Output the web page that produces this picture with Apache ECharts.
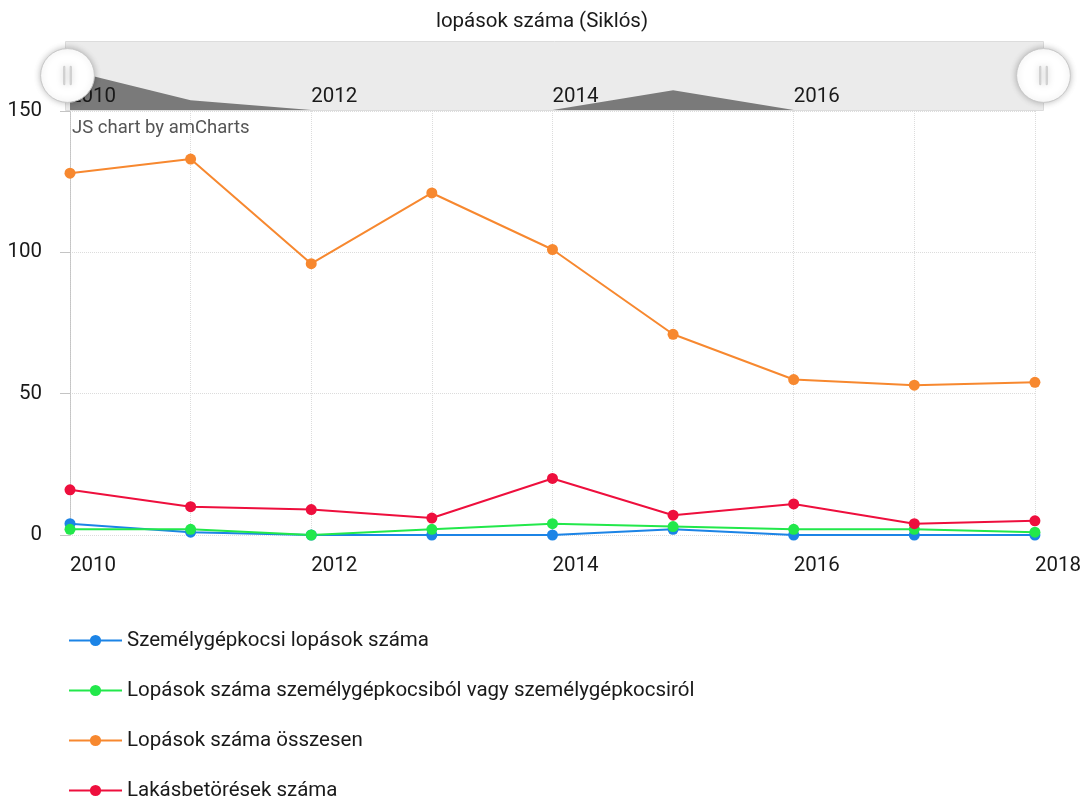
<!DOCTYPE html>
<html lang="hu">
<head>
<meta charset="UTF-8">
<title>lopások száma (Siklós)</title>
<script src="https://cdn.jsdelivr.net/npm/echarts@6/dist/echarts.min.js"></script>
<style>
    html, body { margin: 0; padding: 0; background: #fff; }
    #chart { width: 1084px; height: 802px; }
</style>
</head>
<body>
<div id="chart"></div>
<script type="text/javascript">
    // adatok
    var evek = [2010, 2011, 2012, 2013, 2014, 2015, 2016, 2017, 2018];
    var szgkLopasok = [4, 1, 0, 0, 0, 2, 0, 0, 0];
    var szgkbolLopasok = [2, 2, 0, 2, 4, 3, 2, 2, 1];
    var lopasokOsszesen = [128, 133, 96, 121, 101, 71, 55, 53, 54];
    var lakasbetoresek = [16, 10, 9, 6, 20, 7, 11, 4, 5];
    var cimkeEvek = [2010, 2012, 2014, 2016, 2018];
    var savCimkeEvek = [2010, 2012, 2014, 2016];
    var nevek = [
        'Személygépkocsi lopások száma',
        'Lopások száma személygépkocsiból vagy személygépkocsiról',
        'Lopások száma összesen',
        'Lakásbetörések száma'
    ];
    var szinek = ['#1c84e6', '#22e84b', '#f7882f', '#ee0f3d'];

    function parok(arr) {
        return evek.map(function (ev, i) { return [ev, arr[i]]; });
    }

    function vonal(i, arr) {
        return {
            name: nevek[i],
            type: 'line',
            xAxisIndex: 0,
            yAxisIndex: 0,
            data: parok(arr),
            symbol: 'circle',
            symbolSize: 11,
            lineStyle: {width: 2, color: szinek[i]},
            itemStyle: {color: szinek[i]}
        };
    }

    var myChart = echarts.init(document.getElementById('chart'));
    var betu = 'Roboto';
    var szoveg = '#1a1a1a';

    var option = {
        backgroundColor: '#fff',
        animation: false,
        textStyle: {fontFamily: betu},
        title: {
            text: 'lopások száma (Siklós)',
            left: 'center',
            top: 6,
            textStyle: {fontSize: 20.5, fontWeight: 'normal', color: szoveg, fontFamily: betu}
        },
        legend: {
            orient: 'vertical',
            left: 68,
            top: 630,
            padding: 0,
            itemWidth: 53,
            itemHeight: 14,
            itemGap: 29,
            data: nevek,
            textStyle: {fontSize: 20.5, color: szoveg, fontFamily: betu}
        },
        graphic: [
            {
                type: 'rect',
                z: -10,
                left: 65,
                top: 41,
                shape: {width: 978, height: 69},
                style: {fill: '#ebebeb', stroke: '#dcdcdc', lineWidth: 1}
            },
            {
                type: 'text',
                z: 5,
                left: 72,
                top: 119,
                style: {text: 'JS chart by amCharts', fill: '#555', font: '18.5px Roboto'}
            }
        ],
        grid: [
            {left: 70, right: 49, top: 111, height: 424},
            {left: 70, right: 49, top: 41, height: 69}
        ],
        xAxis: [
            {
                type: 'value',
                gridIndex: 0,
                min: 2010,
                max: 2018,
                interval: 1,
                axisLine: {show: false},
                axisTick: {show: false},
                splitLine: {lineStyle: {color: '#dcdcdc', type: 'dotted'}},
                axisLabel: {
                    margin: 20,
                    align: 'left',
                    fontSize: 20.5,
                    color: szoveg,
                    formatter: function (v) { return cimkeEvek.indexOf(v) >= 0 ? String(v) : ''; }
                }
            },
            {
                type: 'value',
                gridIndex: 1,
                z: 5,
                min: 2010,
                max: 2018,
                interval: 1,
                axisLine: {show: false},
                axisTick: {show: false},
                splitLine: {show: false},
                axisLabel: {
                    // a görgetősáv évcímkéi a sáv belsejében, a terület fölött
                    margin: -24,
                    align: 'left',
                    fontSize: 20.5,
                    color: szoveg,
                    formatter: function (v) { return savCimkeEvek.indexOf(v) >= 0 ? String(v) : ''; }
                }
            }
        ],
        yAxis: [
            {
                type: 'value',
                gridIndex: 0,
                min: 0,
                max: 150,
                interval: 50,
                axisLine: {show: true, lineStyle: {color: '#c4c4c4', type: 'dotted'}},
                axisTick: {show: true, length: 10, lineStyle: {color: '#c4c4c4'}},
                splitLine: {lineStyle: {color: '#dcdcdc', type: 'dotted'}},
                axisLabel: {margin: 28, fontSize: 20.5, color: szoveg}
            },
            {
                type: 'value',
                gridIndex: 1,
                min: 0,
                max: 7,
                show: false
            }
        ],
        dataZoom: [
            {
                type: 'slider',
                xAxisIndex: 0,
                filterMode: 'none',
                start: 0,
                end: 100,
                left: 65,
                right: 41,
                top: 41,
                height: 69,
                z: 20,
                backgroundColor: 'transparent',
                borderColor: 'transparent',
                fillerColor: 'transparent',
                showDataShadow: false,
                showDetail: false,
                brushSelect: false,
                moveHandleSize: 0,
                handleIcon: 'path://M0,-50A50,50,0,1,1,0,50A50,50,0,1,1,0,-50Z M-7,-17L-5,-17L-5,17L-7,17Z M5,-17L7,-17L7,17L5,17Z',
                handleSize: '78%',
                handleStyle: {
                    color: '#fff',
                    borderColor: '#c8c8c8',
                    borderWidth: 1,
                    shadowBlur: 6,
                    shadowColor: 'rgba(0,0,0,0.25)'
                }
            }
        ],
        series: [
            vonal(0, szgkLopasok),
            vonal(1, szgkbolLopasok),
            vonal(2, lopasokOsszesen),
            vonal(3, lakasbetoresek),
            {
                // görgetősáv grafikonja
                name: 'scroll',
                type: 'line',
                xAxisIndex: 1,
                yAxisIndex: 1,
                z: 1,
                data: parok(szgkLopasok),
                showSymbol: false,
                silent: true,
                lineStyle: {width: 0},
                itemStyle: {color: '#7a7a7a'},
                areaStyle: {color: '#7a7a7a', opacity: 1}
            }
        ]
    };
    myChart.setOption(option);
</script>
</body>
</html>
